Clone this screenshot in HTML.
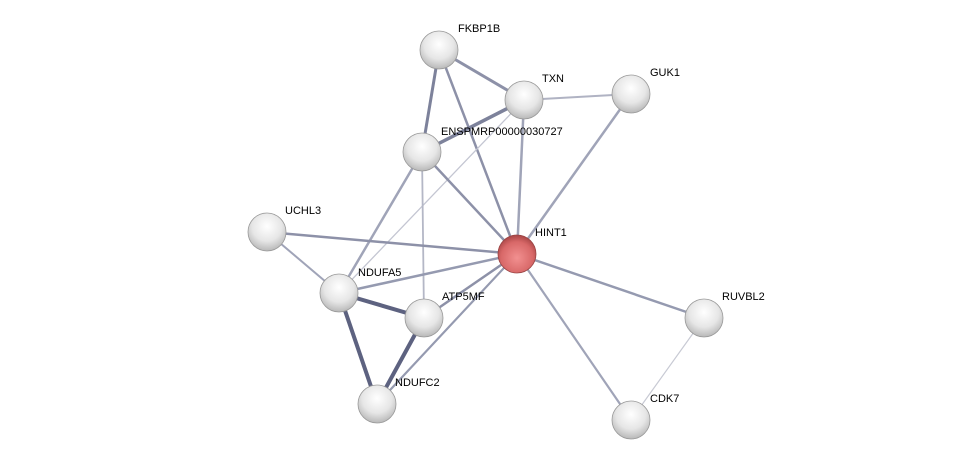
<!DOCTYPE html>
<html><head><style>
body{margin:0;background:#fff;}
text{font-family:"Liberation Sans",sans-serif;font-size:11px;fill:#000;}
</style></head><body>
<svg width="975" height="465" xmlns="http://www.w3.org/2000/svg">
<defs>
<radialGradient id="g" cx="0.5" cy="0.35" r="0.65">
<stop offset="0" stop-color="#ffffff"/><stop offset="0.6" stop-color="#e6e6e6"/><stop offset="1" stop-color="#b8b8b8"/>
</radialGradient>
<radialGradient id="r" cx="0.5" cy="0.6" r="0.6">
<stop offset="0" stop-color="#f29090"/><stop offset="0.7" stop-color="#d86868"/><stop offset="1" stop-color="#a84545"/>
</radialGradient>
</defs>
<g stroke-linecap="round">
<line x1="439" y1="50" x2="524" y2="100" stroke="#8d91a8" stroke-width="3"/>
<line x1="439" y1="50" x2="422" y2="152" stroke="#7d829b" stroke-width="3"/>
<line x1="439" y1="50" x2="517" y2="254" stroke="#8d91a8" stroke-width="2.5"/>
<line x1="524" y1="100" x2="422" y2="152" stroke="#7d829b" stroke-width="3.5"/>
<line x1="524" y1="100" x2="631" y2="94" stroke="#b0b3c3" stroke-width="2"/>
<line x1="524" y1="100" x2="517" y2="254" stroke="#a0a4b8" stroke-width="2.5"/>
<line x1="524" y1="100" x2="339" y2="293" stroke="#c4c6d2" stroke-width="1.3"/>
<line x1="422" y1="152" x2="517" y2="254" stroke="#8d91a8" stroke-width="2.5"/>
<line x1="422" y1="152" x2="339" y2="293" stroke="#a0a4b8" stroke-width="2.5"/>
<line x1="422" y1="152" x2="424" y2="318" stroke="#b4b7c6" stroke-width="1.8"/>
<line x1="631" y1="94" x2="517" y2="254" stroke="#a0a4b8" stroke-width="2.5"/>
<line x1="267" y1="232" x2="517" y2="254" stroke="#8d91a8" stroke-width="2.5"/>
<line x1="267" y1="232" x2="339" y2="293" stroke="#a0a4b8" stroke-width="2"/>
<line x1="517" y1="254" x2="339" y2="293" stroke="#959ab0" stroke-width="2.5"/>
<line x1="517" y1="254" x2="424" y2="318" stroke="#8d91a8" stroke-width="2.5"/>
<line x1="517" y1="254" x2="377" y2="404" stroke="#959ab0" stroke-width="2.2"/>
<line x1="517" y1="254" x2="704" y2="318" stroke="#959ab0" stroke-width="2.5"/>
<line x1="517" y1="254" x2="631" y2="420" stroke="#a0a4b8" stroke-width="2.2"/>
<line x1="704" y1="318" x2="631" y2="420" stroke="#c8cad4" stroke-width="1.2"/>
<line x1="339" y1="293" x2="424" y2="318" stroke="#5d6280" stroke-width="4"/>
<line x1="339" y1="293" x2="377" y2="404" stroke="#5d6280" stroke-width="4"/>
<line x1="424" y1="318" x2="377" y2="404" stroke="#5d6280" stroke-width="4"/>
</g>
<g stroke="#999" stroke-width="0.8">
<circle cx="439" cy="50" r="19" fill="url(#g)"/>
<circle cx="524" cy="100" r="19" fill="url(#g)"/>
<circle cx="631" cy="94" r="19" fill="url(#g)"/>
<circle cx="422" cy="152" r="19" fill="url(#g)"/>
<circle cx="267" cy="232" r="19" fill="url(#g)"/>
<circle cx="517" cy="254" r="19" fill="url(#r)" stroke="#944"/>
<circle cx="339" cy="293" r="19" fill="url(#g)"/>
<circle cx="424" cy="318" r="19" fill="url(#g)"/>
<circle cx="704" cy="318" r="19" fill="url(#g)"/>
<circle cx="377" cy="404" r="19" fill="url(#g)"/>
<circle cx="631" cy="420" r="19" fill="url(#g)"/>
</g>
<text x="458" y="32">FKBP1B</text>
<text x="542" y="82">TXN</text>
<text x="650" y="76">GUK1</text>
<text x="441" y="135">ENSPMRP00000030727</text>
<text x="285" y="214">UCHL3</text>
<text x="535" y="236">HINT1</text>
<text x="358" y="276">NDUFA5</text>
<text x="442" y="300">ATP5MF</text>
<text x="722" y="300">RUVBL2</text>
<text x="395" y="386">NDUFC2</text>
<text x="650" y="402">CDK7</text>
</svg>
</body></html>
